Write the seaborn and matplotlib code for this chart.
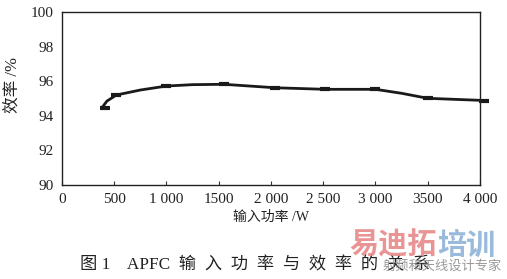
import matplotlib
matplotlib.use("Agg")
import matplotlib.pyplot as plt
import seaborn as sns
import pandas as pd

power = [380, 430, 520, 750, 1000, 1250, 1550, 2040, 2520, 3000, 3250, 3500, 4060]
efficiency = [94.45, 94.85, 95.2, 95.49, 95.72, 95.8, 95.82, 95.62, 95.53, 95.53, 95.3, 95.01, 94.88]
marker_power = [415, 520, 1000, 1550, 2040, 2520, 3000, 3500, 4040]
marker_eff = [94.45, 95.2, 95.72, 95.82, 95.62, 95.53, 95.53, 95.01, 94.88]
xticks = [0, 500, 1000, 1500, 2000, 2500, 3000, 3500, 4000]
xticklabels = ["0", "500", "1 000", "1500", "2 000", "2 500", "3 000", "3500", "4 000"]
yticks = [90, 92, 94, 96, 98, 100]

sns.set_theme(style="white")
plt.rcParams['font.family'] = ['Liberation Serif', 'Noto Sans CJK SC', 'DejaVu Sans']

fig = plt.figure(figsize=(5.07, 2.79), dpi=100)
ax = fig.add_axes([0.1223, 0.337, 0.8244, 0.62])

df = pd.DataFrame({"p": power, "e": efficiency})
sns.lineplot(data=df, x="p", y="e", ax=ax, color="#1a1a1a", linewidth=2.0, sort=False, clip_on=False)
dm = pd.DataFrame({"p": marker_power, "e": marker_eff})
sns.scatterplot(data=dm, x="p", y="e", ax=ax, marker="_", s=60, color="#1a1a1a", linewidth=3, clip_on=False)

ax.set_xlim(0, 4000)
ax.set_ylim(90, 100)
ax.set_xticks(xticks)
ax.set_xticklabels(xticklabels)
ax.set_yticks(yticks)
ax.tick_params(axis="x", direction="in", length=3, width=0.8, colors="#333333", labelsize=11, labelcolor="#222222", pad=6, bottom=True)
ax.tick_params(axis="y", length=0, labelsize=11, labelcolor="#222222", pad=6)
for s in ax.spines.values():
    s.set_color("#222222")
    s.set_linewidth(1.0)
ax.set_xlabel("输入功率 /W", fontsize=10, color="#222222", labelpad=3)
ax.set_ylabel("效率 /%", fontsize=12, color="#222222")
ax.yaxis.set_label_coords(-0.098, 0.58)

fig.text(0.158, 0.05, "图 1    APFC  输  入  功  率  与  效  率  的  关  系", ha="left", va="center", fontsize=12.4, color="#222222")
fig.text(0.69, 0.12, "易迪拓", ha="left", va="center", fontsize=21, color="#e88a8a", fontweight="bold", alpha=0.9)
fig.text(0.862, 0.12, "培训", ha="left", va="center", fontsize=21, color="#8fb3d9", fontweight="bold", alpha=0.9)
fig.text(0.99, 0.045, "射频和天线设计专家", ha="right", va="center", fontsize=9.5, color="#9a9a9a")

fig.savefig("out.png", dpi=100)
